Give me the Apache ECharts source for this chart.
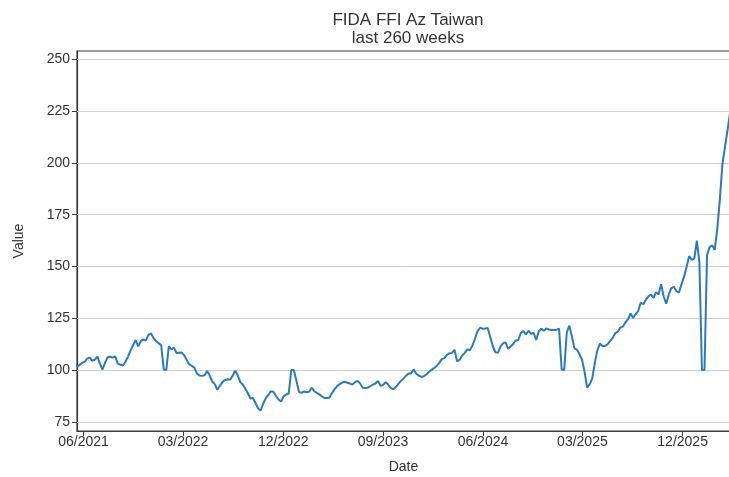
<!DOCTYPE html>
<html>
<head>
<meta charset="utf-8">
<script src="https://cdn.jsdelivr.net/npm/echarts@6/dist/echarts.min.js"></script>
<style>
  html, body { margin: 0; padding: 0; background: #fff; }
  #chart { width: 729px; height: 477px; }
</style>
</head>
<body>
<div id="chart"></div>
<script>
// weekly values, first week 2021-05-14
var firstWeek = Date.UTC(2021, 4, 14);
var vals2021 = [101.5,102.5,103.5,104,105.5,106,104.5,105,106.5,103,100.3,103.5,106.2,106.4,106,106.6,103,102.7,102.2,104,106.5,109.5,112,114.5,111.5,114,114.8,114.3,117,117.7,115.5,114,113,112,100.3,100,111.5,110,110.8];
var vals2022 = [108.2,108.4,108.5,107.2,105,102.7,102,101.2,98.4,97.4,97.2,97.5,99.5,97.5,94.5,93.2,90.5,92.3,94.2,95.2,95.6,95.4,97.2,99.7,97.5,94.2,93,91,88.8,86.3,86.5,84,81.5,80.5,83.8,86.5,88];
var vals2023a = [89.8,89.5,87.5,85.8,84.8,87.3,88.2,88.7,100,100,95,89.5,89,89.7,89.3,89.5,91.5,89.8,89,88.3,87.4,86.5,86.5,86.8,89,90.8,92.3,93.2,94,94.4,93.9,93.5,93,94.2,94.8,93.5,91.5];
var vals2023b = [91.4,91.5,92.2,93,93.5,94.8,92.4,92.8,94.2,93,91.4,90.8,91.8,93.3,94.8,96,97.3,98.3,98.4,100.3,98.2,97.3,96.7,97,98,99.2,100.1,101,102,103.4,105.3,105.8,107.3,108.1,108.3,109.8,104.2,105];
var vals2024 = [107,108.3,110,109.6,111.8,115,118.8,120.4,120,120.1,120.3,116,111.5,108.6,108.3,111.3,112.9,113.4,110.3,111.4,112.6,114.3,114.5,118,118.8,117.2,119,117.5,118,114.5,118.5,120,119,120.1,119.6,119.3,119.3];
var vals2025a = [119.5,120,100.3,100,118,121.5,116.3,110.5,109.8,107.6,105,99,91.5,93.2,96,103.5,109.5,112.8,111.6,111.6,112.5,114,115.5,117.8,118.5,120.5,121,123,124.5,127.3,125.2,127,128.5,132.5,131.8,133.9,135.6];
var vals2025b = [136.5,134.8,137.6,136.5,141.5,135.5,132,136.5,139.5,140.2,138,137.5,141.5,145.2,149.9,155,153.2,153.8,162.5,152,100,100,155.5,159.3,160.2,158,168,182,199,207.5,215.5,224];

var tickDates = ['2021-06-01','2022-03-01','2022-12-01','2023-09-01','2024-06-01','2025-03-01','2025-12-01'];
var tickLabels = ['06/2021','03/2022','12/2022','09/2023','06/2024','03/2025','12/2025'];
var yTicks = [75, 100, 125, 150, 175, 200, 225, 250];

var values = [].concat(vals2021, vals2022, vals2023a, vals2023b, vals2024, vals2025a, vals2025b);
var week = 7 * 24 * 3600 * 1000;
var points = values.map(function(v, i) { return [firstWeek + i * week, v]; });
var tickTs = tickDates.map(function(d) { return Date.parse(d + 'T00:00:00Z'); });

var chart = echarts.init(document.getElementById('chart'));
var font = 'Liberation Sans, Arial, sans-serif';
var option = {
  animation: false,
  title: {
    text: 'FIDA FFI Az Taiwan\nlast 260 weeks',
    left: 403,
    textAlign: 'center',
    top: 6,
    textStyle: { fontFamily: font, fontSize: 17, fontWeight: 'normal', color: '#333', lineHeight: 18 }
  },
  grid: {
    left: 77, right: -1, top: 51, bottom: 46,
    outerBoundsMode: 'none',
    show: true, borderColor: '#3a3a3a', borderWidth: 1.2
  },
  xAxis: {
    type: 'value',
    min: points[0][0],
    max: points[points.length - 1][0],
    name: 'Date',
    nameLocation: 'middle',
    nameGap: 29,
    nameTextStyle: { fontFamily: font, fontSize: 14, color: '#333' },
    axisLine: { show: true, lineStyle: { color: '#3a3a3a', width: 1.2 } },
    axisTick: { show: true, length: 5, lineStyle: { color: '#3a3a3a' }, customValues: tickTs },
    axisLabel: {
      customValues: tickTs,
      fontFamily: font, fontSize: 14, color: '#333', margin: 4,
      formatter: function(v) {
        var k = tickTs.indexOf(v);
        return k >= 0 ? tickLabels[k] : '';
      }
    },
    splitLine: { show: false }
  },
  yAxis: {
    type: 'value',
    min: 70.6,
    max: 254,
    name: 'Value',
    nameLocation: 'middle',
    nameGap: 51,
    nameTextStyle: { fontFamily: font, fontSize: 14, color: '#333' },
    axisLine: { show: true, lineStyle: { color: '#3a3a3a', width: 1.2 } },
    axisTick: { show: true, length: 5, lineStyle: { color: '#3a3a3a' }, customValues: yTicks },
    axisLabel: { customValues: yTicks, fontFamily: font, fontSize: 14, color: '#333', margin: 7 },
    splitLine: { show: true, lineStyle: { color: '#cfcfcf', width: 1 } }
  },
  series: [{
    type: 'line',
    data: points,
    showSymbol: false,
    lineStyle: { color: '#2b7bba', width: 2 },
    itemStyle: { color: '#2b7bba' },
    markLine: {
      silent: true,
      symbol: 'none',
      label: { show: false },
      lineStyle: { color: '#cfcfcf', type: 'solid', width: 1 },
      z: 1,
      data: yTicks.map(function(t) { return { yAxis: t }; })
    }
  }]
};
chart.setOption(option);
</script>
</body>
</html>
